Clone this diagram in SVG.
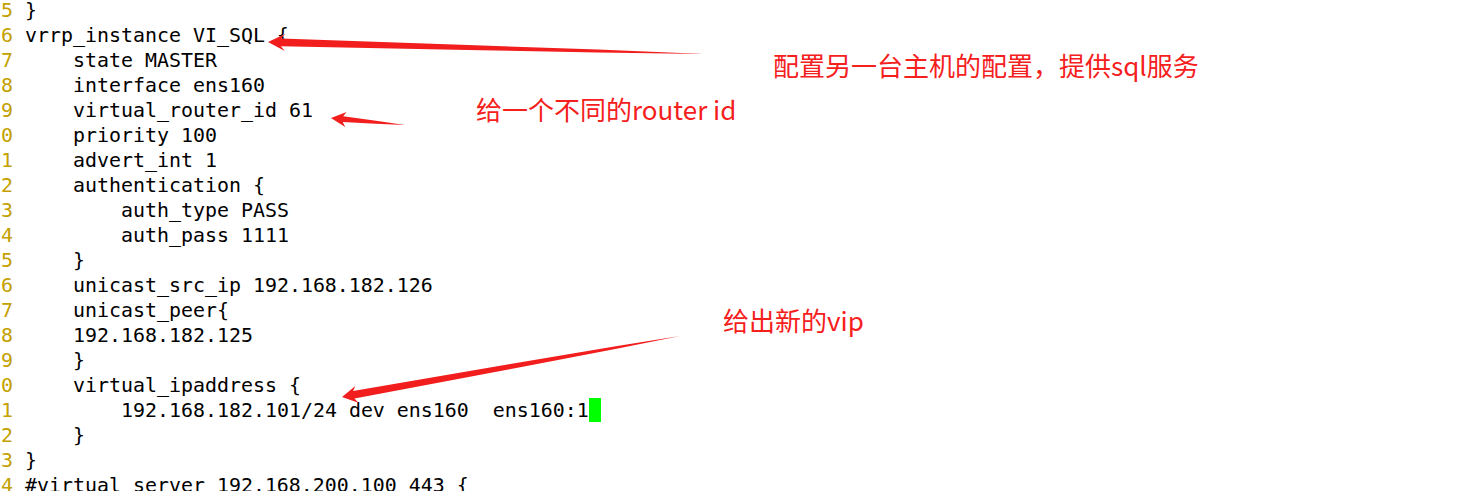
<svg xmlns="http://www.w3.org/2000/svg" width="1476" height="491" viewBox="0 0 1476 491">
  <style>
    .code { font-family: "DejaVu Sans Mono", "Liberation Mono", monospace; font-size: 19.93px; fill: #000000; }
    .ln { font-family: "DejaVu Sans Mono", "Liberation Mono", monospace; font-size: 19.93px; fill: #c4a000; }
    .note { font-family: "Noto Sans CJK SC", "Noto Sans", sans-serif; font-size: 26px; fill: #f5201c; }
    .arrow { fill: #f21d1d; stroke: none; }
  </style>
  <rect x="0" y="0" width="1476" height="491" fill="#ffffff"/>

  <g id="line-numbers">
    <text class="ln" x="1" y="17">5</text>
    <text class="ln" x="1" y="42">6</text>
    <text class="ln" x="1" y="67">7</text>
    <text class="ln" x="1" y="92">8</text>
    <text class="ln" x="1" y="117">9</text>
    <text class="ln" x="1" y="142">0</text>
    <text class="ln" x="1" y="167">1</text>
    <text class="ln" x="1" y="192">2</text>
    <text class="ln" x="1" y="217">3</text>
    <text class="ln" x="1" y="242">4</text>
    <text class="ln" x="1" y="267">5</text>
    <text class="ln" x="1" y="292">6</text>
    <text class="ln" x="1" y="317">7</text>
    <text class="ln" x="1" y="342">8</text>
    <text class="ln" x="1" y="367">9</text>
    <text class="ln" x="1" y="392">0</text>
    <text class="ln" x="1" y="417">1</text>
    <text class="ln" x="1" y="442">2</text>
    <text class="ln" x="1" y="467">3</text>
    <text class="ln" x="1" y="492">4</text>
  </g>

  <g id="code">
    <text class="code" x="25" y="17">}</text>
    <text class="code" x="25" y="42">vrrp_instance VI_SQL {</text>
    <text class="code" x="73" y="67">state MASTER</text>
    <text class="code" x="73" y="92">interface ens160</text>
    <text class="code" x="73" y="117">virtual_router_id 61</text>
    <text class="code" x="73" y="142">priority 100</text>
    <text class="code" x="73" y="167">advert_int 1</text>
    <text class="code" x="73" y="192">authentication {</text>
    <text class="code" x="121" y="217">auth_type PASS</text>
    <text class="code" x="121" y="242">auth_pass 1111</text>
    <text class="code" x="73" y="267">}</text>
    <text class="code" x="73" y="292">unicast_src_ip 192.168.182.126</text>
    <text class="code" x="73" y="317">unicast_peer{</text>
    <text class="code" x="73" y="342">192.168.182.125</text>
    <text class="code" x="73" y="367">}</text>
    <text class="code" x="73" y="392">virtual_ipaddress {</text>
    <text class="code" x="121" y="417" xml:space="preserve">192.168.182.101/24 dev ens160  ens160:1</text>
    <text class="code" x="73" y="442">}</text>
    <text class="code" x="25" y="467">}</text>
    <text class="code" x="25" y="492">#virtual_server 192.168.200.100 443 {</text>
    <rect id="cursor" x="589" y="398" width="12" height="24" fill="#00ff00"/>
  </g>

  <g id="note-other-host">
    <text class="note" x="773" y="76">配置另一台主机的配置，提供sql服务</text>
  </g>
  <g id="note-router-id">
    <text class="note" x="476" y="120">给一个不同的router id</text>
  </g>
  <g id="note-vip">
    <text class="note" x="723" y="331">给出新的vip</text>
  </g>

  <g id="connectors">
    <polygon class="arrow" points="268,42 285.2,34 281.1,38.6 468,45 597.9,49.6 704,54 597.9,52.6 467.9,50 280.9,46.2 284.8,51"/>
    <polygon class="arrow" points="331,118 346.6,111.9 343.2,116.3 375.9,120.8 405,125 375.7,123.7 342.7,121.9 345.2,126.9"/>
    <polygon class="arrow" points="342,397 355.3,386 353.1,391.1 508.9,364.3 617.3,346 680,336 617.8,348.6 509.7,369.3 354.5,398.6 358.3,402.7"/>
  </g>
</svg>
